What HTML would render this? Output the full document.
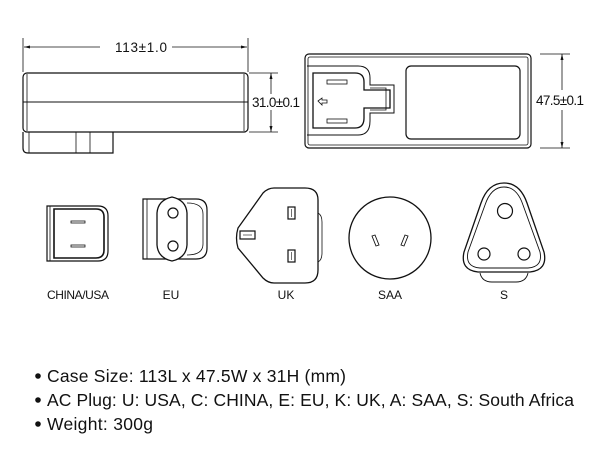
<!DOCTYPE html>
<html><head><style>
body{margin:0;background:#fff;width:604px;height:454px;overflow:hidden}
svg{display:block}
text{font-family:"Liberation Sans",Arial,sans-serif}
</style></head><body>
<svg width="604" height="454" viewBox="0 0 604 454" fill="none" stroke="#111" stroke-width="1.2">
<!-- left view -->
<line x1="23" y1="38" x2="23" y2="72" stroke-width="0.8"/>
<line x1="248" y1="38" x2="248" y2="72" stroke-width="0.8"/>
<line x1="24" y1="47" x2="100" y2="47" stroke-width="0.8"/>
<line x1="172" y1="47" x2="247" y2="47" stroke-width="0.8"/>
<polygon points="24,47 30,45.5 30,48.5" fill="#111" stroke="none"/>
<polygon points="247,47 241,45.5 241,48.5" fill="#111" stroke="none"/>
<text x="141" y="52" font-size="13.5" fill="#111" stroke="none" text-anchor="middle" textLength="52">113±1.0</text>
<rect x="23" y="73" width="225" height="59" rx="4"/>
<line x1="27" y1="74" x2="27" y2="131" stroke-width="0.8"/>
<line x1="244" y1="74" x2="244" y2="131" stroke-width="0.8"/>
<line x1="23" y1="102" x2="248" y2="102" stroke-width="0.9"/>
<path d="M23 132 V148 Q23 153 28 153 H113 V132" />
<line x1="29" y1="132" x2="29" y2="153" stroke-width="0.8"/>
<path d="M76 132 V153 M90 132 V153" stroke-width="0.8"/>
<path d="M249 73 H278 M249 132 H278" stroke-width="0.8"/>
<line x1="271" y1="73" x2="271" y2="94" stroke-width="0.8"/>
<line x1="271" y1="110" x2="271" y2="132" stroke-width="0.8"/>
<polygon points="271,73 269.5,79 272.5,79" fill="#111" stroke="none"/>
<polygon points="271,132 269.5,126 272.5,126" fill="#111" stroke="none"/>
<text x="276" y="107" font-size="13.5" fill="#111" stroke="none" text-anchor="middle" textLength="48">31.0±0.1</text>
<!-- right view -->
<rect x="305" y="54" width="226" height="94" rx="4"/>
<rect x="308" y="57" width="220" height="88" rx="2" stroke-width="0.8"/>
<path d="M307 66 H358 Q370 66 370 78 V85 H394 V113 H370 V121 Q370 135 358 135 H307" stroke-width="1"/>
<path d="M313 73 H355 Q364 73 364 82 V90 H390 V108 H364 V118 Q364 128 355 128 H313 Z" stroke-width="1.3"/>
<path d="M370 88 H386 V110 H370" stroke-width="0.8"/>
<rect x="327" y="80" width="20" height="4" stroke-width="0.8"/>
<rect x="327" y="119" width="20" height="4" stroke-width="0.8"/>
<path d="M318 101 L322 98 V100 H327 V103 H322 V105 Z" stroke-width="0.8"/>
<rect x="406" y="66" width="114" height="73" rx="5"/>
<path d="M540 54 H570 M540 148 H570" stroke-width="0.8"/>
<line x1="562" y1="54" x2="562" y2="90" stroke-width="0.8"/>
<line x1="562" y1="110" x2="562" y2="148" stroke-width="0.8"/>
<polygon points="562,54 560.5,60 563.5,60" fill="#111" stroke="none"/>
<polygon points="562,148 560.5,142 563.5,142" fill="#111" stroke="none"/>
<text x="560" y="105" font-size="13.5" fill="#111" stroke="none" text-anchor="middle" textLength="48">47.5±0.1</text>
<!-- China/USA -->
<path d="M47 206 H98 Q108 206 108 216 V251 Q108 261 98 261 H47 Z"/>
<path d="M54 209 H96 Q104 209 104 217 V250 Q104 258 96 258 H54 Z" stroke-width="1.6"/>
<line x1="50" y1="206" x2="50" y2="261" stroke-width="0.8"/>
<rect x="71" y="221" width="14" height="2" stroke-width="0.8"/>
<rect x="71" y="245" width="14" height="2" stroke-width="0.8"/>
<!-- EU -->
<path d="M143 199 H196 Q207 199 207 210 V248 Q207 259 196 259 H143 Z"/>
<line x1="147" y1="199" x2="147" y2="259" stroke-width="0.8"/>
<path d="M187 203 Q203 203 203 214 V244 Q203 255 187 255" stroke-width="0.8"/>
<path d="M172 197 Q186 200 187 213 V245 Q186 258 172 261 Q158 258 157 245 V213 Q158 200 172 197 Z" fill="#fff" stroke-width="1.3"/>
<circle cx="173" cy="213" r="5"/>
<circle cx="173" cy="246" r="5"/>
<!-- UK -->
<path d="M274 188 H305 Q318 188 318 200 V270 Q318 283 305 283 H274 Q268 283 263 278 L238 248 Q235 238 238 228 L263 193 Q268 188 274 188 Z" stroke-width="1.3"/>
<path d="M318 213 Q322 215 322 222 V253 Q322 260 318 262" stroke-width="0.8"/>
<rect x="288" y="207" width="7" height="12"/>
<line x1="291.5" y1="209" x2="291.5" y2="217" stroke-width="0.6"/>
<rect x="288" y="250" width="7" height="12"/>
<line x1="291.5" y1="252" x2="291.5" y2="260" stroke-width="0.6"/>
<rect x="240" y="231" width="15" height="8"/>
<line x1="243" y1="235" x2="252" y2="235" stroke-width="0.6"/>
<!-- SAA -->
<circle cx="390" cy="238" r="41" stroke-width="1.3"/>
<path d="M372 236 L375 235 L379 245 L376 246 Z" stroke-width="0.9"/>
<path d="M408 236 L405 235 L401 245 L404 246 Z" stroke-width="0.9"/>
<!-- S -->
<path d="M504 183 Q520 183 527 203 L544 252 Q548 270 530 272 H478 Q460 270 464 252 L481 203 Q488 183 504 183 Z" stroke-width="1.3"/>
<path d="M504 187 Q517 187 523 205 L540 252 Q543 267 528 268 H480 Q465 267 468 252 L485 205 Q491 187 504 187 Z" stroke-width="0.9"/>
<path d="M480 273 Q482 282 492 282 H516 Q526 282 528 273" stroke-width="0.9"/>
<circle cx="505" cy="211" r="7.5"/>
<circle cx="484" cy="254" r="6"/>
<circle cx="524" cy="254" r="6"/>
<g fill="#111" stroke="none" font-size="12" text-anchor="middle">
<text x="78" y="299" textLength="62">CHINA/USA</text>
<text x="171" y="299">EU</text>
<text x="286" y="299">UK</text>
<text x="390" y="299">SAA</text>
<text x="504" y="299">S</text>
</g>
<g fill="#111" stroke="none" font-size="17.5">
<circle cx="38" cy="376" r="2.8"/><text x="47" y="382" textLength="299">Case Size: 113L x 47.5W x 31H (mm)</text>
<circle cx="38" cy="400" r="2.8"/><text x="47" y="406" textLength="527">AC Plug: U: USA, C: CHINA, E: EU, K: UK, A: SAA, S: South Africa</text>
<circle cx="38" cy="424" r="2.8"/><text x="47" y="430" textLength="106">Weight: 300g</text>
</g>
</svg>
</body></html>
